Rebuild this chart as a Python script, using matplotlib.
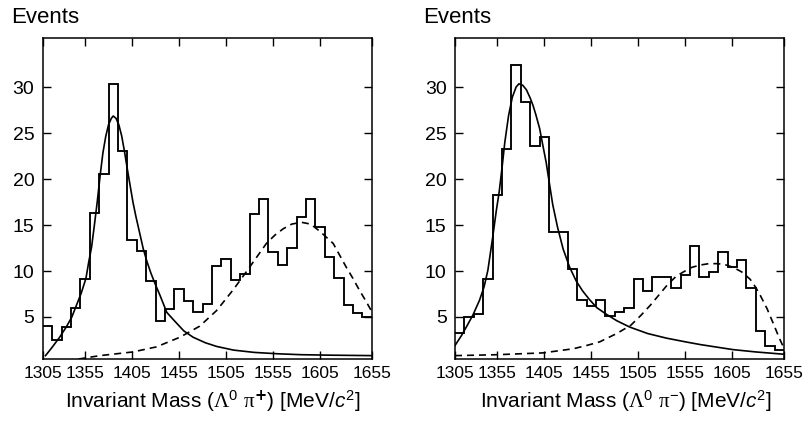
import numpy as np
import matplotlib
matplotlib.use('Agg')
import matplotlib.pyplot as plt

plt.rcParams['font.family'] = ['Liberation Sans', 'DejaVu Sans']
plt.rcParams['mathtext.fontset'] = 'custom'
plt.rcParams['mathtext.rm'] = 'Liberation Sans'
plt.rcParams['mathtext.it'] = 'Liberation Sans:italic'
plt.rcParams['mathtext.sf'] = 'Liberation Serif'

# histogram bins, 10 MeV wide
bin_edges = np.arange(1305, 1656, 10)

counts_plus = [4.0, 2.5, 3.9, 6.0, 9.1, 16.3, 20.6, 30.3, 23.0, 13.4,
               12.2, 8.9, 4.6, 5.9, 8.0, 6.7, 5.5, 6.4, 10.5, 11.3,
               9.0, 9.7, 16.2, 17.8, 12.1, 10.6, 12.5, 15.9, 17.8, 14.8,
               11.5, 9.2, 6.35, 5.4, 5.0]
counts_minus = [3.3, 5.0, 5.3, 9.1, 18.3, 23.3, 32.4, 28.4, 23.6, 24.6,
                14.2, 14.2, 10.2, 6.9, 6.2, 6.9, 5.1, 5.5, 6.0, 9.1,
                7.8, 9.3, 9.3, 8.1, 9.6, 12.7, 9.35, 9.9, 12.1, 10.4,
                11.2, 8.2, 3.5, 1.9, 1.4]

# fit curves
peak_plus_x = [1308, 1315, 1323, 1330, 1336, 1341, 1346, 1351, 1354, 1357,
               1360, 1363, 1366, 1369, 1372, 1375, 1378, 1380, 1383, 1386,
               1389, 1392, 1395, 1398, 1401, 1404, 1408, 1412, 1416, 1420,
               1425, 1430, 1437, 1445, 1455, 1465, 1478, 1490, 1508, 1530,
               1555, 1580, 1610, 1655]
peak_plus_y = [0.8, 1.7, 2.8, 3.9, 5.0, 6.3, 7.6, 9.2, 11.0, 12.6,
               15.0, 17.5, 20.3, 22.8, 24.6, 25.9, 26.6, 26.85, 26.6, 25.9,
               24.7, 23.0, 21.1, 19.3, 17.5, 16.0, 14.2, 12.4, 11.0, 9.8,
               8.5, 7.3, 5.5, 4.6, 3.5, 2.8, 2.2, 1.8, 1.4, 1.15,
               1.0, 0.9, 0.85, 0.8]
bkg_plus_x = [1305, 1320, 1338, 1366, 1401, 1426, 1451, 1472, 1490, 1508,
              1525, 1543, 1552, 1561, 1570, 1580, 1590, 1600, 1614, 1621,
              1628, 1635, 1642, 1649, 1655]
bkg_plus_y = [0.1, 0.2, 0.35, 0.8, 1.2, 1.75, 2.8, 4.0, 5.7, 8.0,
              10.4, 13.0, 13.9, 14.6, 15.1, 15.3, 15.1, 14.3, 13.0, 11.7,
              10.4, 9.2, 7.9, 6.7, 5.6]

peak_minus_x = [1305, 1312, 1317, 1324, 1331, 1336, 1340, 1345, 1349, 1352,
                1355, 1358, 1362, 1366, 1370, 1373, 1377, 1381, 1385, 1388,
                1391, 1395, 1398, 1402, 1405, 1409, 1414, 1420, 1427, 1434,
                1441, 1448, 1456, 1466, 1477, 1491, 1510, 1530, 1550, 1566,
                1585, 1601, 1625, 1655]
peak_minus_y = [1.9, 3.0, 3.9, 5.2, 6.8, 8.3, 10.1, 13.6, 16.6, 18.6,
                21.2, 24.0, 26.9, 28.9, 30.0, 30.35, 30.2, 29.7, 28.8, 28.0,
                27.0, 25.5, 23.9, 21.8, 19.8, 17.2, 14.8, 12.4, 10.4, 8.9,
                7.8, 6.9, 6.0, 5.3, 4.6, 3.9, 3.2, 2.7, 2.3, 2.0,
                1.7, 1.45, 1.2, 0.95]
bkg_minus_x = [1305, 1350, 1399, 1431, 1445, 1459, 1477, 1492, 1503, 1513,
               1522, 1531, 1540, 1548, 1557, 1566, 1575, 1584, 1592, 1601,
               1610, 1619, 1625, 1630, 1637, 1644, 1650, 1655]
bkg_minus_y = [0.8, 0.9, 1.1, 1.55, 1.9, 2.3, 3.2, 4.1, 5.2, 6.3,
               7.4, 8.5, 9.4, 9.9, 10.4, 10.65, 10.8, 10.8, 10.7, 10.4,
               9.9, 9.1, 8.2, 7.3, 5.9, 4.2, 2.7, 1.6]

xtick_labels = ['1305', '1355', '1405', '1455', '1505', '1555', '1605', '1655']
ytick_values = [5, 10, 15, 20, 25, 30]

xlabels = [r'Invariant Mass ($\mathsf{\Lambda}^0\ \mathsf{\pi}^{\mathbf{+}}$) [MeV/$c^2$]',
           r'Invariant Mass ($\mathsf{\Lambda}^0\ \mathsf{\pi}^{-}$) [MeV/$c^2$]']

W, H = 804, 436
fig = plt.figure(figsize=(W / 100, H / 100), dpi=100)

panels = [
    (42.7, counts_plus, peak_plus_x, peak_plus_y, bkg_plus_x, bkg_plus_y, xlabels[0], 213),
    (455.0, counts_minus, peak_minus_x, peak_minus_y, bkg_minus_x, bkg_minus_y, xlabels[1], 626),
]

for left, counts, px, py, bx, by, xlab, xc in panels:
    ax = fig.add_axes([left / W, (H - 359.3) / H, 329 / W, 321 / H])
    ax.stairs(counts, bin_edges, color='k', lw=1.35, baseline=None)
    ax.plot(px, py, color='k', lw=1.2)
    ax.plot(bx, by, color='k', lw=1.2, dashes=(4.2, 3.0))
    ax.set_xlim(1305, 1655)
    ax.set_ylim(0.4, 35.3)
    ax.set_xticks([1305, 1350, 1400, 1450, 1500, 1550, 1600, 1655])
    ax.set_xticklabels(xtick_labels, fontsize=12.5)
    ax.set_yticks(ytick_values)
    ax.set_yticklabels([str(v) for v in ytick_values], fontsize=14)
    ax.tick_params(direction='in', length=5.8, width=1.0, top=True, right=True,
                   colors='k')
    ax.tick_params(axis='x', pad=5)
    ax.tick_params(axis='y', pad=6)
    for s in ax.spines.values():
        s.set_linewidth(1.1)
    fig.text((left - 32) / W, 1 - 22.7 / H, 'Events', fontsize=16,
             ha='left', va='baseline')
    fig.text(xc / W, 1 - 407.3 / H, xlab, fontsize=15, ha='center', va='baseline')

fig.savefig('out.png', dpi=100)
